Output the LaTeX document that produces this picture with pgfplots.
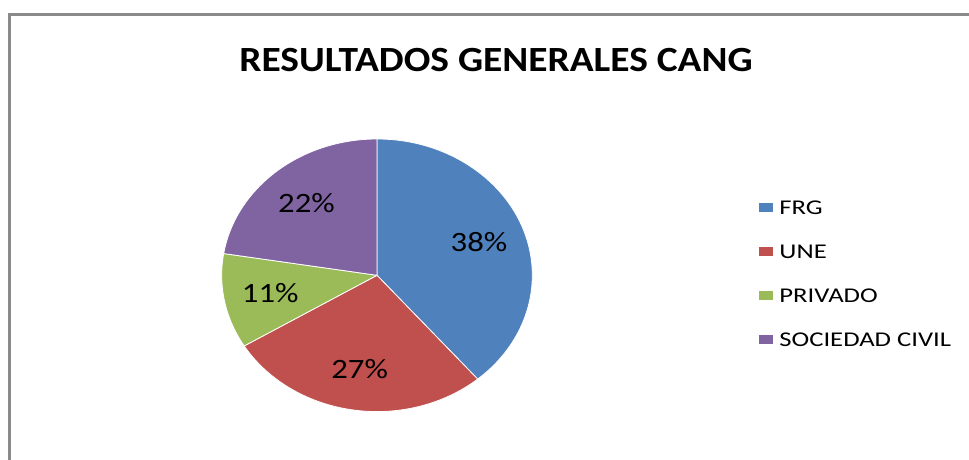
\documentclass[border=0pt]{standalone}
\usepackage{fontspec}
\setmainfont{Carlito}
\usepackage{pgfplots}
\usepackage{pgfplotstable}
\pgfplotsset{compat=1.18}
\definecolor{frg}{HTML}{4F81BD}
\definecolor{une}{HTML}{C0504D}
\definecolor{priv}{HTML}{9BBB59}
\definecolor{soc}{HTML}{8064A2}
\definecolor{frame}{HTML}{8A8A8A}

% shares of the pie (percent, as printed on the slices)
\pgfplotstableread[col sep=comma]{
name,value,col
FRG,38,frg
UNE,27,une
PRIVADO,11,priv
SOCIEDAD CIVIL,22,soc
}\pietable

\pgfplotsset{sqlegend/.style={legend image code/.code={%
  \fill[##1, draw=none] (0pt,-4.5pt) rectangle (14pt,4.5pt);
  \path (20pt,0pt);}}}

\begin{document}
\begin{tikzpicture}
\begin{axis}[scale only axis, width=969pt, height=460pt,
  xmin=0, xmax=969, ymin=0, ymax=460, hide axis, clip=false,
  legend style={at={(axis cs:756,262)}, anchor=north west, draw=none, fill=none,
    font=\fontsize{21}{22}\selectfont, row sep=30pt,
    nodes={inner sep=0pt, text height=14pt, text depth=0pt}},
  legend cell align=left]
\path[use as bounding box] (axis cs:0,0) rectangle (axis cs:969,460);
\draw[frame, line width=2.5pt] (axis cs:9.5,0) -- (axis cs:9.5,445.5) -- (axis cs:969,445.5);
\node[font=\bfseries\fontsize{35.4}{38}\selectfont, xscale=1.114] at (axis cs:496,400) {RESULTADOS GENERALES CANG};

\pgfplotstablegetrowsof{\pietable}
\pgfmathtruncatemacro{\nrows}{\pgfplotsretval-1}
\def\total{0}
\pgfplotsforeachungrouped \i in {0,...,\nrows}{%
  \pgfplotstablegetelem{\i}{value}\of\pietable
  \pgfmathsetmacro{\total}{\total+\pgfplotsretval}%
}
\def\a{90}
\pgfplotsforeachungrouped \i in {0,...,\nrows}{%
  \pgfplotstablegetelem{\i}{value}\of\pietable \let\v\pgfplotsretval
  \pgfplotstablegetelem{\i}{col}\of\pietable \let\c\pgfplotsretval
  \pgfmathsetmacro{\b}{\a-360*\v/\total}%
  \pgfmathsetmacro{\xs}{377+155.3*cos(\a)}%
  \pgfmathsetmacro{\ys}{184.7+136.3*sin(\a)}%
  \pgfmathsetmacro{\m}{(\a+\b)/2}%
  \pgfmathsetmacro{\xl}{377+0.7*155.3*cos(\m)}%
  \pgfmathsetmacro{\yl}{184.7+0.7*136.3*sin(\m)}%
  \pgfmathtruncatemacro{\vt}{\v}%
  \edef\temp{\noexpand\fill[\c, draw=white, line width=0.8pt]
    (axis cs:377,184.7) -- (axis cs:\xs,\ys)
    arc[start angle=\a, end angle=\b, x radius=155.3, y radius=136.3] -- cycle;
    \noexpand\node[font=\noexpand\fontsize{28}{30}\noexpand\selectfont, xscale=1.17]
    at (axis cs:\xl,\yl) {\vt\noexpand\%};}%
  \temp
  \let\a\b
}

\addlegendimage{sqlegend, fill=frg}
\addlegendentry{\scalebox{1.27}[1]{FRG}}
\addlegendimage{sqlegend, fill=une}
\addlegendentry{\scalebox{1.27}[1]{UNE}}
\addlegendimage{sqlegend, fill=priv}
\addlegendentry{\scalebox{1.27}[1]{PRIVADO}}
\addlegendimage{sqlegend, fill=soc}
\addlegendentry{\scalebox{1.27}[1]{SOCIEDAD CIVIL}}
\end{axis}
\end{tikzpicture}
\end{document}
